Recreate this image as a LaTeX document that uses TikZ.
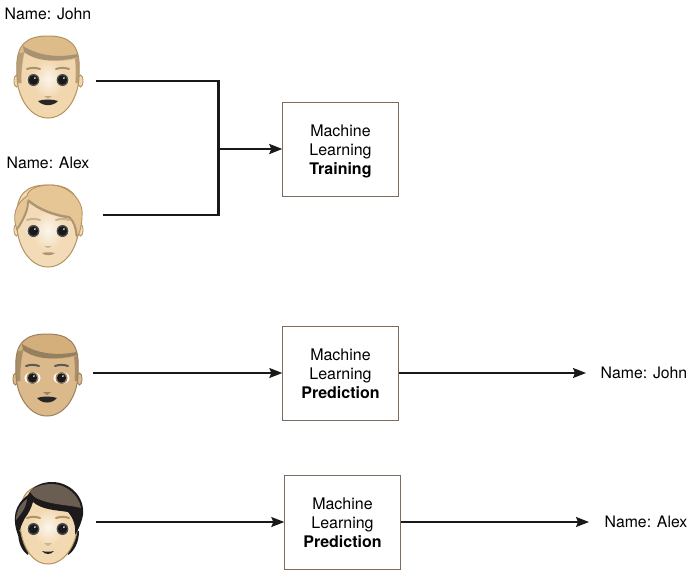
\documentclass[tikz,border=0pt]{standalone}
\usepackage{fontspec}
\setmainfont{TeX Gyre Heros}
\usetikzlibrary{arrows.meta,positioning}
\definecolor{boxedge}{HTML}{7D6B5D}
\definecolor{skinA}{HTML}{F2D6AD}
\definecolor{edgeA}{HTML}{B3935F}
\definecolor{hairA}{HTML}{DDBC8A}
\definecolor{bandA}{HTML}{A89274}
\definecolor{skinB}{HTML}{F3DBB8}
\definecolor{hairB}{HTML}{E6C694}
\definecolor{bandB}{HTML}{AD9574}
\definecolor{skinC}{HTML}{DCB98A}
\definecolor{edgeC}{HTML}{9A8060}
\definecolor{hairC}{HTML}{D4AF7C}
\definecolor{bandC}{HTML}{94805F}
\definecolor{skinD}{HTML}{F3D9B2}
\definecolor{hairD}{HTML}{1C1A1A}
\definecolor{hairDtop}{HTML}{6A5E52}
\tikzset{
  mlbox/.style={draw=boxedge,line width=0.9pt,fill=white,minimum width=115.5pt,minimum height=94pt,align=center,inner sep=0pt,font=\fontsize{16}{19}\selectfont},
  namelabel/.style={inner sep=0pt,font=\fontsize{15.8}{19}\selectfont},
  thickline/.style={line width=2.2pt,draw=black!90},
  thinline/.style={line width=1.4pt,draw=black!90},
  tip/.style={-{Stealth[length=13pt,width=10pt,inset=2pt]}},
}
\newcommand\mltext[2]{\rule{0pt}{#2}Machine\\Learning\\\textbf{#1}}
\newcommand\headpath{(-31,-5) .. controls (-33,-34) and (-20,-41) .. (0,-41) .. controls (20,-41) and (33,-34) .. (31,-5) .. controls (32,20) and (18,41) .. (0,41) .. controls (-18,41) and (-32,20) .. (-31,-5) -- cycle}
\newcommand\headbase[2]{%
  \fill[#1,draw=#2,line width=0.8pt] (-31.5,4) ellipse (2.5 and 6);
  \fill[#1,draw=#2,line width=0.8pt] (32.5,4) ellipse (2.5 and 6);
  \fill[#1] \headpath;
}
\newcommand\eyes[3]{%
  \foreach \s in {-1,1}{
    \fill[white] (\s*14.5,#3) ellipse (7 and 5);
    \fill[#1] (\s*14.5,#3) circle (6);
    \fill[#2] (\s*14.5,#3) circle (4.6);
    \fill[white] (\s*14.5+1.4,#3-2) circle (0.9);
  }
}
\newcommand\brows[2]{%
  \draw[#1,line width=2pt,line cap=round] (-21,#2) .. controls (-17,{#2-1.5}) and (-12,{#2-1.5}) .. (-8,#2);
  \draw[#1,line width=2pt,line cap=round] (21,#2) .. controls (17,{#2-1.5}) and (12,{#2-1.5}) .. (8,#2);
}
% fill, band
\newcommand\quiff[2]{%
  \begin{scope}
  \clip \headpath;
  \fill[#1] (-34,6) -- (-34,-45) -- (34,-45) -- (34,6) -- (27,6) .. controls (28,-4) and (28,-12) .. (27,-18) .. controls (14,-15) and (-10,-14) .. (-23,-25) .. controls (-26,-14) and (-27,-4) .. (-26,6) -- cycle;
  \fill[#2] (-25,-31) .. controls (-8,-20) and (14,-19) .. (34,-24) -- (34,-21) .. controls (14,-15) and (-10,-14) .. (-24,-25) -- cycle;
  \fill[#2!70!#1] (27,-18) -- (34,-22) -- (34,6) -- (28,6) .. controls (28,-4) and (28,-12) .. (27,-18) -- cycle;
  \fill[#2!70!#1] (-24,-25) -- (-34,-22) -- (-34,6) -- (-27,6) .. controls (-27,-4) and (-26,-14) .. (-24,-25) -- cycle;
  \end{scope}
}
\begin{document}
\begin{tikzpicture}[x=1pt,y=-1pt]
\useasboundingbox (0,0) rectangle (694,587);
\fill[white] (0,0) rectangle (694,587);

% John
\begin{scope}[shift={(48,77)}]
  \headbase{skinA}{edgeA}
  \shade[inner color=white!75!skinA,outer color=skinA] (0,2) ellipse (16 and 20);
  \quiff{hairA}{bandA}
  \draw[edgeA,line width=1pt] \headpath;
  \eyes{black!70}{black!90}{3}
  \brows{bandA}{-8}
  \fill[edgeA!80] (-4,19) -- (4,19) -- (0,21.5) -- cycle;
  \fill[black!85] (-10,24) .. controls (-4,22) and (4,22) .. (10,24) .. controls (5,29.5) and (-5,29.5) .. (-10,24) -- cycle;
\end{scope}

% Alex
\begin{scope}[shift={(48,226)}]
  \headbase{skinB}{edgeA}
  \shade[inner color=white!75!skinB,outer color=skinB] (0,4) ellipse (16 and 20);
  \draw[edgeA,line width=1pt] \headpath;
  \fill[hairB,draw=edgeA,line width=0.9pt] (-31,4) .. controls (-36,-10) and (-33,-22) .. (-21,-30) .. controls (-20,-37) and (-10,-41) .. (2,-41) .. controls (20,-41) and (36,-26) .. (34,-10) .. controls (34,-2) and (32,6) .. (29,12) .. controls (29,2) and (26,-4) .. (21,-8) .. controls (6,-10) and (-10,-16) .. (-20,-25) .. controls (-20,-16) and (-24,-8) .. (-31,4) -- cycle;
  \draw[bandB,line width=2pt] (-20,-26) .. controls (-10,-17) and (6,-11) .. (21,-9) .. controls (26,-5) and (28,2) .. (28.5,10);
  \draw[bandB,line width=2pt] (-20,-24) .. controls (-20,-16) and (-24,-8) .. (-30,2);
  \eyes{black!70}{black!90}{5}
  \brows{edgeA!70}{-6}
  \fill[edgeA!70] (-4,20) -- (4,20) -- (0,22) -- cycle;
  \fill[bandB] (-6,27) .. controls (-2,26) and (2,26) .. (7,27) .. controls (3,30) and (-3,30) .. (-6,27) -- cycle;
\end{scope}

% Third face
\begin{scope}[shift={(47,375)}]
  \headbase{skinC}{edgeC}
  \quiff{hairC}{bandC}
  \draw[edgeC,line width=1pt] \headpath;
  \foreach \s in {-1,1}{\fill[white] (\s*14.5,3) ellipse (8 and 6);}
  \eyes{edgeC}{black!90}{3}
  \brows{black!65}{-9}
  \fill[edgeC] (-4,17) -- (4,17) -- (0,20) -- cycle;
  \fill[black!85] (-10,23) .. controls (-4,21) and (4,21) .. (10,23) .. controls (5,29) and (-5,29) .. (-10,23) -- cycle;
\end{scope}

% Fourth face
\begin{scope}[shift={(48,523)}]
  \fill[hairD] (-30,8) .. controls (-30,20) and (-26,28) .. (-20,32) -- (-14,10) -- cycle;
  \fill[hairD] (31,8) .. controls (31,20) and (26,28) .. (20,32) -- (14,10) -- cycle;
  \fill[skinD,draw=edgeA,line width=1pt] (-28,-5) .. controls (-28,-30) and (-18,-38) .. (0,-38) .. controls (18,-38) and (30,-30) .. (30,-5) .. controls (31,18) and (18,41) .. (0,41) .. controls (-18,41) and (-29,18) .. (-28,-5) -- cycle;
  \shade[inner color=white!75!skinD,outer color=skinD] (0,4) ellipse (16 and 18);
  \fill[hairD] (-30,12) .. controls (-36,-4) and (-34,-18) .. (-20,-28) .. controls (-16,-37) and (-6,-41) .. (4,-41) .. controls (22,-41) and (37,-26) .. (35,-8) .. controls (34,-2) and (31,6) .. (27,12) .. controls (28,4) and (26,-4) .. (20,-11) .. controls (8,-13) and (-6,-13) .. (-15,-21) .. controls (-17,-14) and (-20,-9) .. (-23,-5) .. controls (-26,0) and (-28,6) .. (-30,12) -- cycle;
  \fill[hairDtop] (-18,-31) .. controls (-14,-37) and (-4,-39) .. (4,-39) .. controls (18,-39) and (31,-28) .. (33,-15) .. controls (22,-18) and (4,-18) .. (-10,-24) .. controls (-14,-26) and (-16,-28) .. (-18,-31) -- cycle;
  \fill[hairDtop] (-21,-24) .. controls (-27,-20) and (-32,-12) .. (-32,-3) .. controls (-28,-8) and (-22,-14) .. (-21,-24) -- cycle;
  \eyes{black!70}{black!90}{6}
  \brows{edgeA}{-5}
  \fill[edgeA!70] (-4,20) -- (4,20) -- (0,23) -- cycle;
  \fill[black!85] (-6,28) .. controls (-2,29) and (2,29) .. (6,28) .. controls (3,32) and (-3,32) .. (-6,28) -- cycle;
\end{scope}

% labels
\node[namelabel] (nj) at (48,14) {Name: John};
\node[namelabel] (na) at (48,163) {Name: Alex};
\node[namelabel] (nj2) at (644,373) {Name: John};
\node[namelabel] (na2) at (646,522) {Name: Alex};

% boxes
\node[mlbox] (b1) at (340.5,149.5) {\mltext{Training}{15pt}};
\node[mlbox] (b2) at (340.5,373.5) {\mltext{Prediction}{13pt}};
\node[mlbox] (b3) at (342.5,522.5) {\mltext{Prediction}{13pt}};

% connector ends
\coordinate (fj) at (96,81);
\coordinate (fa) at (103,215);
\coordinate (jn) at (218.5,149);
\coordinate (f3) at (93,373);
\coordinate (f4) at (96,522);
\coordinate (e3) at (586,373);
\coordinate (e4) at (589,522);

\draw[thickline,line join=miter] (fj) -| (jn);
\draw[thickline,line join=miter] (fa) -| (jn);
\draw[thickline,tip] (jn) -- (jn -| b1.west);
\draw[thinline,tip] (f3) -- (f3 -| b2.west);
\draw[thinline,tip] (b2.east |- e3) -- (e3);
\draw[thinline,tip] (f4) -- (f4 -| b3.west);
\draw[thinline,tip] (b3.east |- e4) -- (e4);
\end{tikzpicture}
\end{document}
